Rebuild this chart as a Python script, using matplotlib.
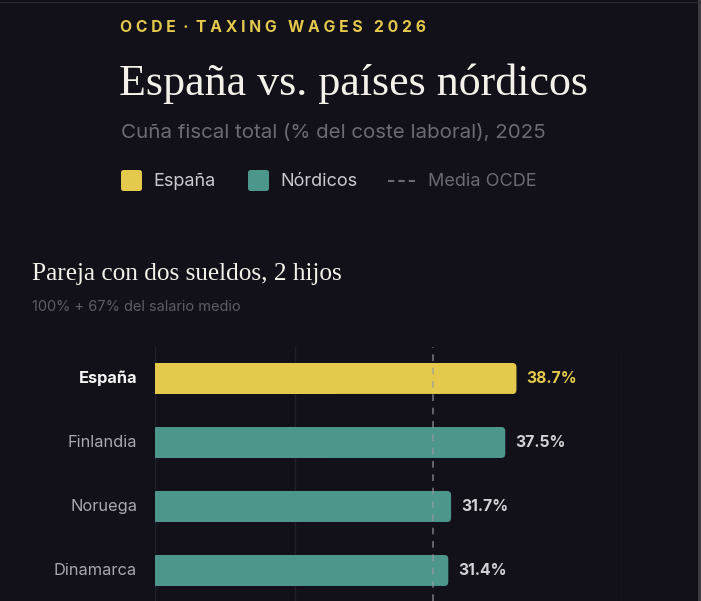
import matplotlib
matplotlib.use('Agg')
import matplotlib.pyplot as plt
from matplotlib.patches import FancyBboxPatch, Rectangle

# datos
paises = ['España', 'Finlandia', 'Noruega', 'Dinamarca']
cuna = [38.7, 37.5, 31.7, 31.4]
media_ocde = 29.8
grid_x = [0, 15, 50]

BG = '#121119'
AMARILLO = '#e4c94c'
VERDE = '#4d968b'
GRIS = '#6c6b74'

W, H = 701, 601
fig = plt.figure(figsize=(W / 100, H / 100), dpi=100, facecolor=BG)

def fx(px):
    return px / W

def fy(py):
    return 1 - py / H

sans = ['Inter', 'DejaVu Sans']
serif = ['Liberation Serif', 'DejaVu Serif']

# cabecera
fig.text(fx(120), fy(32), 'O C D E  ·  T A X I N G   W A G E S   2 0 2 6', color=AMARILLO,
         fontsize=11.3, fontweight='bold', family=sans, va='baseline')
fig.text(fx(119), fy(95), 'España vs. países nórdicos', color='#f4f1ea',
         fontsize=31.7, family=serif, va='baseline')
fig.text(fx(121), fy(138), 'Cuña fiscal total (% del coste laboral), 2025', color=GRIS,
         fontsize=14.8, family=sans, va='baseline')

# leyenda
for x0, c in [(121, AMARILLO), (248, VERDE)]:
    fig.patches.append(FancyBboxPatch((fx(x0), fy(191)), fx(21), 21 / H,
                                      boxstyle='round,pad=0,rounding_size=0.004',
                                      transform=fig.transFigure, facecolor=c,
                                      edgecolor='none'))
fig.text(fx(153), fy(181), 'España', color='#c9c9cf', fontsize=13, family=sans, va='center')
fig.text(fx(280), fy(181), 'Nórdicos', color='#c9c9cf', fontsize=13, family=sans, va='center')
fig.lines.append(plt.Line2D([fx(388), fx(415)], [fy(181), fy(181)], transform=fig.transFigure,
                            color=GRIS, lw=1.5, ls=(0, (3, 2))))
fig.text(fx(428), fy(181), 'Media OCDE', color=GRIS, fontsize=13, family=sans, va='center')

# subtítulo del panel
fig.text(fx(32), fy(280), 'Pareja con dos sueldos, 2 hijos', color='#f4f1ea',
         fontsize=18.2, family=serif, va='baseline')
fig.text(fx(32), fy(307), '100% + 67% del salario medio', color='#5e5d66',
         fontsize=10.5, family=sans, va='center')

# panel de barras
ax = fig.add_axes([fx(155), 0, fx(622 - 155), (601 - 347) / H])
ax.set_facecolor(BG)
ax.set_xlim(0, 50)
ax.set_ylim(3.477, -0.492)

for x in grid_x:
    ax.axvline(x, color='#22212b', lw=1, zorder=0)

alto = 0.484
px_x = (622 - 155) / 50
px_y = 64
r = 4 / px_x
for i, (p, v) in enumerate(zip(paises, cuna)):
    c = AMARILLO if i == 0 else VERDE
    ax.add_patch(FancyBboxPatch((0, i - alto / 2), v, alto,
                                boxstyle=f'round,pad=0,rounding_size={r}',
                                mutation_aspect=(1 / px_y) / (1 / px_x),
                                facecolor=c, edgecolor='none', zorder=2))
    ax.add_patch(Rectangle((0, i - alto / 2), v / 2, alto, facecolor=c,
                           edgecolor='none', zorder=2))
    ax.text(v + 10 / px_x, i, f'{v:.1f}%', color=AMARILLO if i == 0 else '#d2d2d6',
            fontsize=11.3, fontweight='bold', family=sans, va='center', ha='left')
    ax.text(-18 / px_x, i, p, color='#f4f4f6' if i == 0 else '#a8a8b0',
            fontsize=11.8, fontweight='bold' if i == 0 else 'normal', family=sans,
            va='center', ha='right')

ax.axvline(media_ocde, color='#9a9aa2', lw=1.2, ls=(0, (4, 4)), alpha=0.7, zorder=3)

for s in ax.spines.values():
    s.set_visible(False)
ax.set_xticks([])
ax.set_yticks([])

# bordes de la captura
fig.patches.append(Rectangle((fx(698), 0), fx(3), 1, transform=fig.transFigure,
                             facecolor='#3c3c42', edgecolor='none'))
fig.patches.append(Rectangle((0, fy(3)), 1, 1.5 / H, transform=fig.transFigure,
                             facecolor='#2a2a32', edgecolor='none'))

fig.savefig('out.png', dpi=100, facecolor=BG)
